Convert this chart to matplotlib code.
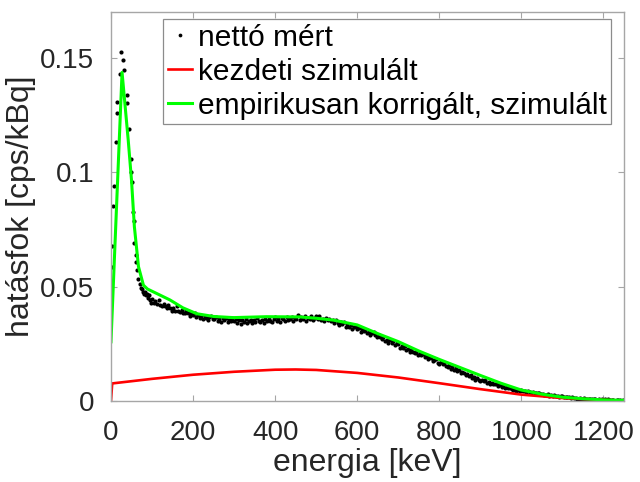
import numpy as np
import matplotlib
matplotlib.use("Agg")
import matplotlib.pyplot as plt

plt.rcParams["font.family"] = ["Liberation Sans", "DejaVu Sans"]

#measured points around the low-energy peak (keV, cps/kBq)
peak_e = [0.5, 1.5, 3, 5.5, 8, 11.5, 14, 15.5, 22, 25, 30, 32, 38, 39, 45, 49, 50,
          51.6, 53, 56, 57, 60, 61, 64, 67, 70, 73, 75, 77, 80, 83, 85, 87, 90, 93,
          95, 97]
peak_y = [0.0456, 0.0588, 0.0680, 0.0854, 0.0940, 0.1134, 0.1260, 0.1310, 0.1430,
          0.1525, 0.1490, 0.1450, 0.1340, 0.1305, 0.1190, 0.1057, 0.1000, 0.0957,
          0.0825, 0.0690, 0.0787, 0.0639, 0.0607, 0.0573, 0.0532, 0.0512, 0.0496,
          0.0490, 0.0478, 0.0470, 0.0478, 0.0462, 0.0470, 0.0452, 0.0464, 0.0440,
          0.0427]

#measured points above 100 keV, 4 keV apart (units of 1e-4 cps/kBq)
tail_e = np.arange(100, 1252, 4)
tail_y = [
    446, 427, 437, 425, 441, 422, 414, 426, 416, 407,
    419, 405, 395, 408, 396, 414, 396, 388, 397, 387,
    384, 395, 384, 374, 387, 376, 386, 369, 376, 363,
    374, 361, 374, 364, 355, 367, 373, 357, 361, 366,
    351, 361, 345, 363, 354, 364, 346, 356, 349, 364,
    348, 361, 343, 353, 338, 356, 347, 357, 340, 351,
    356, 341, 353, 346, 362, 349, 344, 356, 340, 360,
    348, 361, 352, 345, 359, 367, 350, 357, 347, 363,
    361, 351, 369, 355, 359, 367, 351, 365, 358, 376,
    356, 367, 360, 371, 352, 365, 358, 373, 355, 364,
    370, 358, 373, 355, 361, 350, 364, 353, 358, 349,
    355, 342, 355, 342, 334, 344, 336, 344, 325, 335,
    325, 333, 316, 325, 330, 313, 318, 304, 316, 307,
    311, 297, 303, 287, 299, 302, 287, 281, 288, 279,
    271, 280, 263, 268, 255, 266, 256, 262, 245, 253,
    248, 233, 240, 230, 240, 222, 227, 215, 224, 216,
    209, 215, 200, 211, 201, 207, 191, 197, 183, 191,
    189, 176, 181, 183, 168, 162, 172, 161, 167, 154,
    150, 156, 142, 148, 134, 144, 133, 136, 123, 127,
    123, 112, 118, 109, 114, 101, 103, 93, 100, 92,
    89, 94, 86, 91, 80, 84, 75, 81, 75, 76,
    73, 66, 70, 60, 64, 58, 63, 55, 58, 51,
    50, 54, 46, 50, 46, 49, 42, 44, 39, 42,
    41, 36, 38, 33, 37, 33, 35, 30, 32, 28,
    27, 29, 24, 26, 22, 26, 22, 23, 19, 21,
    20, 16, 19, 16, 18, 14, 16, 13, 15, 11,
    10, 13, 10, 13, 8, 11, 8, 10, 8, 11,
    9, 6, 8, 6, 9, 4, 7, 5, 7, 4,
    4, 6, 2, 5, 3, 5, 2, 3,
]

#initial simulation
sim_e = [0, 3, 100, 200, 300, 400, 450, 500, 600, 700, 800, 900, 1000, 1100, 1200, 1250]
sim_y = [0.0, 0.0077, 0.0097, 0.0115, 0.0128, 0.0137, 0.0138, 0.0136, 0.0123, 0.0103,
         0.0078, 0.0052, 0.0028, 0.0013, 0.0005, 0.0002]

#empirically corrected simulation
corr_e = [0, 27, 42, 50, 57, 67, 79, 89, 120, 144, 175, 209, 250, 298, 379, 460, 501,
          542, 600, 650, 700, 750, 800, 850, 900, 950, 1000, 1050, 1100, 1150, 1200, 1250]
corr_y = [0.0259, 0.1438, 0.1142, 0.0967, 0.0763, 0.0588, 0.0507, 0.0490, 0.0463,
          0.0442, 0.0408, 0.0382, 0.0370, 0.0365, 0.0369, 0.0368, 0.0362, 0.0354,
          0.0333, 0.0295, 0.0260, 0.0219, 0.0182, 0.0147, 0.0112, 0.0078, 0.0048,
          0.0030, 0.0017, 0.0010, 0.0005, 0.0003]

x_ticks = [0, 200, 400, 600, 800, 1000, 1200]
y_ticks = [0, 0.05, 0.1, 0.15]
y_tick_labels = ["0", "0.05", "0.1", "0.15"]

meas_e = np.concatenate([peak_e, tail_e])
meas_y = np.concatenate([peak_y, np.array(tail_y) * 1e-4])

fig = plt.figure(figsize=(6.4, 4.82), dpi=100)
ax = fig.add_axes([0.1734, 0.168, 0.8016, 0.8075])

ax.plot(meas_e, meas_y, "o", color="black", markersize=3.0, markeredgewidth=0,
        label="nettó mért")
ax.plot(sim_e, sim_y, color="#ff0000", lw=1.9, label="kezdeti szimulált")
ax.plot(corr_e, corr_y, color="#00ff00", lw=2.2, label="empirikusan korrigált, szimulált")

ax.set_xlim(0, 1250)
ax.set_ylim(0, 0.1703)
ax.set_xticks(x_ticks)
ax.set_yticks(y_ticks)
ax.set_yticklabels(y_tick_labels)

for s in ax.spines.values():
    s.set_color("#a6a6a6")
    s.set_linewidth(1.0)
ax.tick_params(direction="in", length=4, width=0.8, color="#a6a6a6",
               top=True, right=True, labelsize=20, labelcolor="#262626")
ax.tick_params(axis="x", pad=14)
ax.tick_params(axis="y", pad=12)

ax.set_xlabel("energia [keV]", fontsize=23, color="#262626", labelpad=1)
ax.set_ylabel("hatásfok [cps/kBq]", fontsize=23, color="#262626", labelpad=3)

leg = ax.legend(loc="upper right", bbox_to_anchor=(0.9747, 0.9812), borderaxespad=0,
                fontsize=21.5, handlelength=0.8, handletextpad=0.2, labelspacing=0.2,
                borderpad=0.15, fancybox=False, framealpha=1, markerscale=0.9)
leg.get_frame().set_edgecolor("#8c8c8c")
leg.get_frame().set_linewidth(0.9)

fig.savefig("out.png", dpi=100)
